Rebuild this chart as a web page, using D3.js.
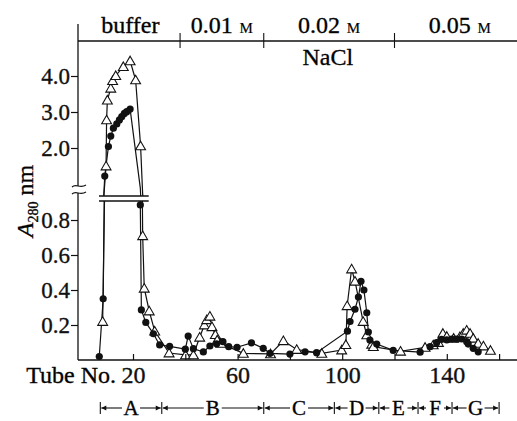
<!DOCTYPE html>
<html>
<head>
<meta charset="utf-8">
<script src="https://cdn.jsdelivr.net/npm/d3@7"></script>
<style>
  body { margin: 0; background: #fff; }
  svg text { stroke: #111; stroke-width: 0.35px; }
</style>
</head>
<body>
<script>
// filled circles: tube number, A280
const circleTube = [7.1, 8.6, 9.2, 10.6, 11.5, 12.5, 13.8, 14.8, 15.7, 16.7, 17.6, 18.9,
  22.8, 23.2, 24.9, 27.8, 30.2, 34, 40, 41.1, 43.1, 46.9, 49.4, 52, 54.4, 56.6, 59.8,
  65.3, 69.8, 72.4, 80, 85.8, 90.2, 102, 103, 104.9, 106.2, 107.2, 108.3, 109.4, 110,
  110.6, 113.2, 119.5, 129.8, 133.6, 136.1, 138, 140, 141.9, 143.7, 145.7, 147.6,
  148.2, 150.1, 152];
const circleA280 = [0.02, 0.35, 1.22, 2.04, 2.33, 2.55, 2.67, 2.78, 2.87, 2.96, 3.01, 3.08,
  0.886, 0.286, 0.215, 0.15, 0.086, 0.078, 0.062, 0.137, 0.065, 0.046, 0.08, 0.093, 0.105,
  0.076, 0.073, 0.098, 0.067, 0.038, 0.034, 0.047, 0.042, 0.165, 0.22, 0.29, 0.36, 0.45,
  0.40, 0.27, 0.16, 0.114, 0.091, 0.055, 0.045, 0.076, 0.099, 0.118, 0.115, 0.12, 0.12,
  0.12, 0.105, 0.091, 0.067, 0.047];

// open triangles
const triTube = [8.4, 9.7, 9.9, 10.2, 11.5, 12.2, 13.4, 16.3, 18.9, 21, 22.9, 23.7, 24.3,
  26.2, 28.3, 33.8, 40.1, 43.1, 45.5, 47.3, 48.2, 49.4, 50.2, 51.5, 52.2, 53.6, 62.2,
  72.6, 77.5, 82.6, 92.2, 99.8, 101.4, 101.9, 103.6, 104.9, 108, 109.4, 111.3, 111.9,
  122.3, 131.7, 134.8, 136.8, 138.5, 140, 142.6, 145, 146.3, 147.6, 148.9, 150.1, 152,
  154, 156.7];
const triA280 = [0.22, 1.5, 2.78, 3.33, 3.66, 3.87, 4.01, 4.26, 4.42, 3.89, 2.06, 0.71, 0.41,
  0.28, 0.165, 0.04, 0.029, 0.029, 0.13, 0.2, 0.23, 0.25, 0.19, 0.145, 0.114, 0.095, 0.038,
  0.035, 0.11, 0.06, 0.038, 0.057, 0.088, 0.31, 0.52, 0.45, 0.22, 0.143, 0.09, 0.076,
  0.05, 0.072, 0.086, 0.1, 0.152, 0.135, 0.124, 0.133, 0.152, 0.17, 0.152, 0.124, 0.095,
  0.08, 0.055];

const upperTicks = [2.0, 3.0, 4.0];
const lowerTicks = [0.2, 0.4, 0.6, 0.8];
const xTicks = [20, 40, 60, 80, 100, 120, 140, 160];
const xTickLabels = [20, 60, 100, 140];

const gradientEdges = [0, 38, 70, 120, 170];
const gradientLabels = ['buffer', '0.01', '0.02', '0.05'];

const fractionEdges = [7.5, 31, 70, 97, 114, 129, 142, 160];
const fractionNames = ['A', 'B', 'C', 'D', 'E', 'F', 'G'];

const W = 517, H = 421;
const axisX = 78, baseY = 360, topY = 41;
const upBottom = 196, loTop = 201;
const FONT = '"Liberation Serif", "Times New Roman", "DejaVu Serif", serif';

const svg = d3.select('body').append('svg')
    .attr('width', W)
    .attr('height', H)
    .style('font-family', FONT);

const x = d3.scaleLinear().domain([0, 160]).range([80.7, 499.1]);
const yUp = d3.scaleLinear().domain([2, 4]).range([148, 76]);
const yLo = d3.scaleLinear().domain([0, 0.8]).range([baseY, 220]);

const defs = svg.append('defs');
defs.append('clipPath').attr('id', 'clip-up')
  .append('rect').attr('x', 0).attr('y', topY).attr('width', W).attr('height', upBottom - topY);
defs.append('clipPath').attr('id', 'clip-lo')
  .append('rect').attr('x', 0).attr('y', loTop).attr('width', W).attr('height', H - loTop);

const circles = circleTube.map((t, i) => [t, circleA280[i]]);
const tris = triTube.map((t, i) => [t, triA280[i]]);

// lines, drawn once per panel and clipped
[[yUp, 'clip-up'], [yLo, 'clip-lo']].forEach(([ys, clip]) => {
  const line = d3.line().x(d => x(d[0])).y(d => ys(d[1]));
  const g = svg.append('g').attr('clip-path', `url(#${clip})`);
  [tris, circles].forEach(s => {
    g.append('path')
      .attr('d', line(s))
      .attr('fill', 'none')
      .attr('stroke', '#111')
      .attr('stroke-width', 1.2);
  });
});

// break lines across the peak
svg.selectAll('.brk').data([upBottom, loTop]).join('line')
    .attr('x1', x(7)).attr('x2', x(26))
    .attr('y1', d => d).attr('y2', d => d)
    .attr('stroke', '#111').attr('stroke-width', 1.5);

const yOf = v => v >= 1 ? yUp(v) : yLo(v);

svg.append('g').selectAll('path').data(tris).join('path')
    .attr('transform', d => `translate(${x(d[0])},${yOf(d[1]) + 1})`)
    .attr('d', d3.symbol(d3.symbolTriangle, 42))
    .attr('fill', '#fff')
    .attr('stroke', '#111')
    .attr('stroke-width', 1.1);

svg.append('g').selectAll('circle').data(circles).join('circle')
    .attr('cx', d => x(d[0]))
    .attr('cy', d => yOf(d[1]))
    .attr('r', 3.6)
    .attr('fill', '#111');

// y axes
const styleAxis = g => {
  g.attr('font-family', null);
  g.select('.domain').remove();
  g.selectAll('line').attr('stroke', '#111').attr('stroke-width', 1.2);
  g.selectAll('text').style('font-size', '23px').style('font-family', FONT).attr('fill', '#111');
};
svg.append('g').attr('transform', `translate(${axisX},0)`)
    .call(d3.axisLeft(yUp).tickValues(upperTicks).tickFormat(d3.format('.1f')).tickSize(7).tickPadding(1))
    .call(styleAxis);
svg.append('g').attr('transform', `translate(${axisX},0)`)
    .call(d3.axisLeft(yLo).tickValues(lowerTicks).tickFormat(d3.format('.1f')).tickSize(7).tickPadding(1))
    .call(styleAxis);

svg.append('line').attr('x1', axisX).attr('x2', axisX).attr('y1', 24).attr('y2', 186)
    .attr('stroke', '#111').attr('stroke-width', 1.3);
svg.append('line').attr('x1', axisX).attr('x2', axisX).attr('y1', 193).attr('y2', baseY)
    .attr('stroke', '#111').attr('stroke-width', 1.3);
svg.selectAll('.sq').data([186, 193]).join('path')
    .attr('d', d => `M${axisX - 6},${d + 1} C${axisX - 2},${d - 3} ${axisX + 2},${d + 3} ${axisX + 8},${d - 1}`)
    .attr('fill', 'none').attr('stroke', '#111').attr('stroke-width', 1.2);

// x axis
svg.append('g').attr('transform', `translate(0,${baseY})`)
    .call(d3.axisBottom(x).tickValues(xTicks)
      .tickFormat(d => xTickLabels.includes(d) ? d : '')
      .tickSize(-6).tickPadding(6))
    .call(g => {
      g.attr('font-family', null);
      g.select('.domain').remove();
      g.selectAll('line').attr('stroke', '#111').attr('stroke-width', 1.2);
      g.selectAll('text').style('font-size', '24px').style('font-family', FONT).attr('fill', '#111');
    });
svg.append('line').attr('x1', axisX).attr('x2', W).attr('y1', baseY).attr('y2', baseY)
    .attr('stroke', '#111').attr('stroke-width', 1.3);
svg.append('text').attr('x', 116).attr('y', 383)
    .attr('text-anchor', 'end').style('font-size', '24px').text('Tube No.');

// y label
const yl = svg.append('text')
    .attr('transform', 'translate(33,201) rotate(-90)')
    .attr('text-anchor', 'middle')
    .style('font-size', '24px');
yl.append('tspan').style('font-style', 'italic').text('A');
yl.append('tspan').attr('dy', 5).style('font-size', '14px').text('280');
yl.append('tspan').attr('dy', -5).text(' nm');

// NaCl gradient axis on top
svg.append('line').attr('x1', axisX).attr('x2', W).attr('y1', topY).attr('y2', topY)
    .attr('stroke', '#111').attr('stroke-width', 1.3);
svg.selectAll('.gt').data(gradientEdges.slice(1, -1)).join('line')
    .attr('x1', d => x(d)).attr('x2', d => x(d))
    .attr('y1', topY - 8).attr('y2', topY + 7)
    .attr('stroke', '#111').attr('stroke-width', 1.1);
gradientLabels.forEach((lab, i) => {
  const t = svg.append('text')
      .attr('x', x((gradientEdges[i] + gradientEdges[i + 1]) / 2))
      .attr('y', 33)
      .attr('text-anchor', 'middle')
      .style('font-size', '24px');
  t.append('tspan').text(lab);
  if (i > 0) t.append('tspan').style('font-size', '15px').style('stroke-width', '0.2px').text('\u2009 M');
});
svg.append('text').attr('x', x(94.5)).attr('y', 65)
    .attr('text-anchor', 'middle').style('font-size', '24px').text('NaCl');

// fraction bar: segments broken around each letter
const fy = 408, gap = 9;
const fg = svg.append('g');
fractionNames.forEach((n, i) => {
  const x0 = x(fractionEdges[i]), x1 = x(fractionEdges[i + 1]);
  const cx = (x0 + x1) / 2;
  [[x0 + 1, cx - gap], [cx + gap, x1 - 1]].forEach(([a, b]) => {
    fg.append('line').attr('x1', a).attr('x2', b).attr('y1', fy).attr('y2', fy)
        .attr('stroke', '#111').attr('stroke-width', 1.1);
  });
  fg.append('path').attr('d', `M${x0 + 1},${fy} l5,-2.5 v5 z`).attr('fill', '#111');
  fg.append('path').attr('d', `M${x1 - 1},${fy} l-5,-2.5 v5 z`).attr('fill', '#111');
  fg.append('text').attr('x', cx).attr('y', fy + 7).attr('text-anchor', 'middle')
      .style('font-size', '21px').text(n);
});
fg.selectAll('.fe').data(fractionEdges).join('line')
    .attr('x1', d => x(d)).attr('x2', d => x(d))
    .attr('y1', fy - 6).attr('y2', fy + 6)
    .attr('stroke', '#111').attr('stroke-width', 1.1);
</script>
</body>
</html>
